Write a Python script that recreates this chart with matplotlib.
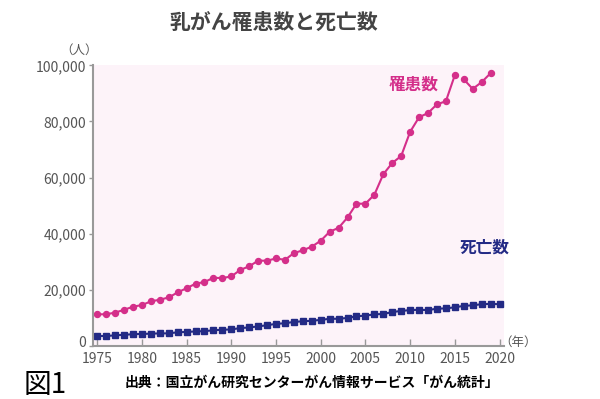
import matplotlib
matplotlib.use('Agg')
import matplotlib.pyplot as plt
import matplotlib.transforms as mtransforms

plt.rcParams['font.family'] = ['Noto Sans CJK JP', 'DejaVu Sans']

# 罹患数 (1975-2015 は推計、2016-2019 は全国がん登録)
years_inc1 = list(range(1975, 2016))
inc1 = [11300, 11300, 11900, 12900, 14000, 14600, 15900, 16500, 17300, 19100,
        20600, 22200, 22800, 24300, 24200, 24800, 27100, 28400, 30400, 30400,
        31200, 30700, 33100, 34100, 35400, 37500, 40700, 42100, 45800, 50700,
        50700, 53900, 61200, 65200, 67700, 76300, 81500, 83000, 86100, 87200,
        96500]
years_inc2 = [2016, 2017, 2018, 2019]
inc2 = [95000, 91600, 94000, 97200]

# 死亡数
years_death = list(range(1975, 2021))
death = [3560, 3560, 3800, 4000, 4200, 4300, 4400, 4500, 4500, 4900,
         5000, 5200, 5300, 5600, 5800, 5900, 6400, 6600, 7000, 7400,
         7900, 8100, 8600, 8800, 9000, 9300, 9700, 9700, 10000, 10600,
         10800, 11300, 11400, 12100, 12500, 12800, 12900, 12800, 13300, 13400,
         13800, 14300, 14500, 14900, 15000, 14900]

xticks = [1975, 1980, 1985, 1990, 1995, 2000, 2005, 2010, 2015, 2020]
yticks = [0, 20000, 40000, 60000, 80000, 100000]

pink = '#d42f8a'
navy = '#232a85'
gray = '#555555'

fig = plt.figure(figsize=(6, 3.99), dpi=100)
ax = fig.add_axes([0.155, 0.1328, 0.685, 0.7035])
ax.set_facecolor('#fdf3f9')

ax.plot(years_inc1, inc1, color=pink, lw=1.5, marker='o', ms=4.3, clip_on=False)
ax.plot(years_inc2, inc2, color=pink, lw=1.5, marker='o', ms=4.3, clip_on=False)
ax.plot(years_death, death, color=navy, lw=1.5, marker='s', ms=3.8, clip_on=False)

ax.set_xlim(1974.53, 2020.5)
ax.set_ylim(0, 100000)
ax.set_xticks(xticks)
ax.set_yticks(yticks)
ax.set_yticklabels(['{:,}'.format(v) for v in yticks])
ax.tick_params(axis='x', direction='in', length=5, width=1, color='#999999',
               labelsize=10, labelcolor=gray, pad=4)
ax.tick_params(axis='y', direction='out', length=3, width=1, color='#999999',
               labelsize=10, labelcolor=gray, pad=2)
# 0 のラベルだけ少し上に
lab0 = ax.get_yticklabels()[0]
lab0.set_transform(lab0.get_transform() +
                   mtransforms.ScaledTranslation(0, 5 / 100, fig.dpi_scale_trans))

for s in ['top', 'right']:
    ax.spines[s].set_visible(False)
for s in ['left', 'bottom']:
    ax.spines[s].set_color('#999999')
    ax.spines[s].set_linewidth(1.5)

def fx(px):
    return px / 600

def fy(py):
    return 1 - py / 399

fig.text(fx(274), fy(22), '乳がん罹患数と死亡数', ha='center', va='center',
         fontsize=15, fontweight='bold', color='#444444')
fig.text(fx(79), fy(50), '（人）', ha='center', va='center', fontsize=9, color=gray)
fig.text(fx(518), fy(342), '（年）', ha='center', va='center', fontsize=9, color=gray)
fig.text(fx(414), fy(85), '罹患数', ha='center', va='center', fontsize=12,
         fontweight='bold', color=pink)
fig.text(fx(485), fy(248), '死亡数', ha='center', va='center', fontsize=12,
         fontweight='bold', color=navy)
fig.text(fx(24), fy(385), '図1', ha='left', va='center', fontsize=20, color='black')
fig.text(fx(125), fy(383), '出典：国立がん研究センターがん情報サービス「がん統計」',
         ha='left', va='center', fontsize=10, fontweight='bold', color='black')

fig.savefig('out.png', dpi=100)
